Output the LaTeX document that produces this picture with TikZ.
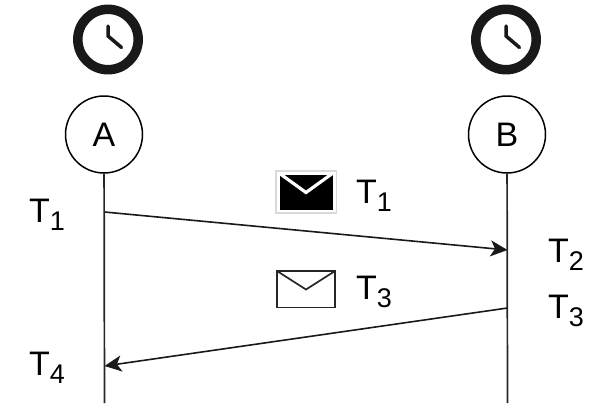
\documentclass[tikz,border=0pt]{standalone}
\usepackage{fontspec}
\setmainfont{Liberation Sans}
\usetikzlibrary{arrows.meta}
\newcommand{\timelabel}[1]{T\raisebox{-8pt}{\fontsize{27}{27}\selectfont #1}}
\tikzset{
	peer/.style={draw,circle,line width=1.5pt,minimum size=77pt,inner sep=0pt,font=\fontsize{34}{34}\selectfont},
	stamp/.style={anchor=base west,inner sep=0pt,font=\fontsize{34}{34}\selectfont},
	lifeline/.style={line width=1.7pt,black!85},
	msg/.style={line width=1.6pt,black!90,-{Stealth[length=17pt,width=16pt,inset=4.5pt]}},
	clockring/.style={line width=9.5pt,black!90},
	clockhand/.style={line width=3.5pt,black!90,line cap=round,line join=miter}
}
\begin{document}
\begin{tikzpicture}[x=1pt,y=-1pt]
	\useasboundingbox (0,0) rectangle (591,405);
	% clocks
	\draw [clockring] (108,39.5) circle (30.2);
	\draw [clockhand] (108,26) -- (108,36) -- (121.5,47.5);
	\draw [clockring] (506,39.5) circle (30.2);
	\draw [clockhand] (506,26) -- (506,36) -- (519.5,47.5);
	% peers
	\node [peer] (A) at (104,134.5) {A};
	\node [peer] (B) at (507,134.5) {B};
	\coordinate (Aend) at (104.5,403);
	\coordinate (Bend) at (507.5,403);
	\draw [lifeline] (A) -- (Aend);
	\draw [lifeline] (B) -- (Bend);
	% messages
	\coordinate (Aout) at (104.5,212);
	\coordinate (Bin) at (507.5,250);
	\coordinate (Bout) at (507.5,308);
	\coordinate (Ain) at (104.5,366);
	\draw [msg] (Aout) -- (Bin);
	\draw [msg] (Bout) -- (Ain);
	% black envelope
	\draw [black!15,line width=1.5pt] (276,171) rectangle (336.5,213);
	\fill [black] (279.5,175) rectangle (332.5,209.5);
	\draw [white,line width=3.2pt] (279,173) -- (306,192.5) -- (333,173);
	% white envelope
	\draw [black!85,line width=1.7pt,line join=miter] (277,271) rectangle (335,307.5);
	\draw [black!85,line width=1.7pt] (277,271) -- (306,289.5) -- (335,271);
	% times
	\node [stamp] (t1a) at (29,222.5) {\timelabel{1}};
	\node [stamp] (t4a) at (29,375.5) {\timelabel{4}};
	\node [stamp] (t1m) at (356,203) {\timelabel{1}};
	\node [stamp] (t3m) at (356,299) {\timelabel{3}};
	\node [stamp] (t2b) at (548,262) {\timelabel{2}};
	\node [stamp] (t3b) at (548,318.5) {\timelabel{3}};
\end{tikzpicture}
\end{document}
